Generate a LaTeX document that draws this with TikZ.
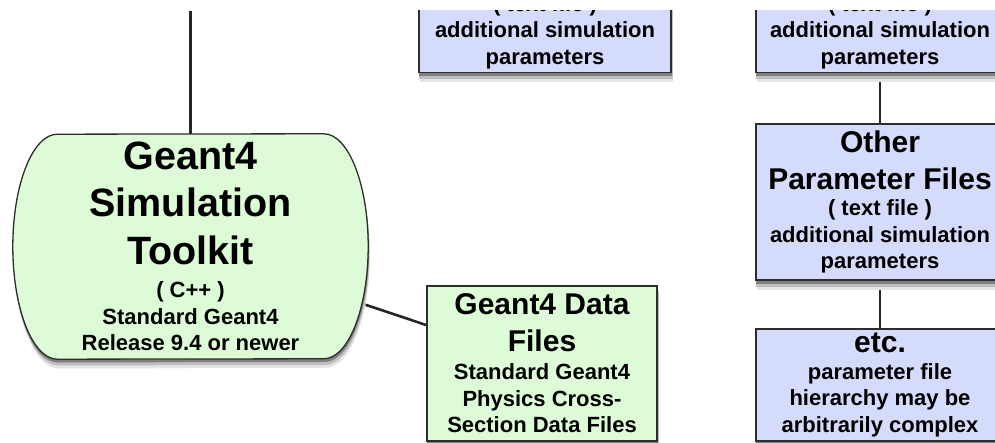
\documentclass[tikz,border=0pt]{standalone}
\usepackage{fontspec}
\setmainfont{Liberation Sans}
\usetikzlibrary{positioning,calc,backgrounds}
\definecolor{toolgreen}{RGB}{222,251,215}
\definecolor{parblue}{RGB}{212,219,251}
\definecolor{edgegray}{RGB}{45,45,45}
\newcommand{\fixspace}{\spaceskip=\fontdimen2\font\relax\xspaceskip=\fontdimen2\font\relax}
\newcommand{\titlefont}{\fontsize{39.5}{47.5}\selectfont\fixspace}
\newcommand{\headfont}{\fontsize{30}{37}\selectfont\fixspace}
\newcommand{\notefont}{\fontsize{22}{26.5}\selectfont\fixspace}

\begin{document}
\begin{tikzpicture}[x=1pt,y=1pt,
  softshadow/.style={preaction={fill=black!10,draw=black!10,transform canvas={xshift=1.5pt,yshift=-9pt}},
    preaction={fill=black!25,draw=black!25,transform canvas={xshift=1pt,yshift=-6pt}},
    preaction={fill=black!50,draw=black!50,transform canvas={xshift=.5pt,yshift=-3pt}}},
  box/.style={draw=edgegray,line width=1.3pt,align=center,inner sep=0pt,font=\bfseries,softshadow},
  parbox/.style={box,fill=parblue,text width=240pt,minimum width=248pt},
  tktext/.style={align=center,inner sep=0pt,font=\bfseries,text width=262pt,minimum width=266pt,minimum height=225pt},
  tkshape/.style={draw=edgegray,line width=1.3pt,fill=toolgreen,softshadow},
  link/.style={line width=2.6pt,draw=black!85}]
\useasboundingbox (0,0) rectangle (995,443);

% toolkit and data files
\node[tktext] (toolkit) at (190.5,196.5) {{\titlefont Geant4\\Simulation\\Toolkit\par}\vspace{7pt}{\notefont ( C++ )\\Standard Geant4\\Release 9.4 or newer\par}};
\node[box,fill=toolgreen,text width=225pt,minimum width=230pt,minimum height=155pt] (data) at (542,79.5) {{\headfont Geant4 Data\\Files\par}\vspace{1.5pt}{\notefont Standard Geant4\\Physics Cross-\\Section Data Files\par}};

% parameter files
\begin{scope}
\clip (0,0) rectangle (995,432);
\node[parbox,minimum width=252pt,anchor=south,inner ysep=3.5pt] (parleft) at (545,370) {{\notefont ( text file )\\additional simulation\\parameters\par}};
\node[parbox,anchor=south,inner ysep=3.5pt] (parright) at (880,370) {{\notefont ( text file )\\additional simulation\\parameters\par}};
\end{scope}
\node[parbox,minimum height=156pt] (other) at (880,241) {{\headfont Other\\Parameter Files\par}{\notefont ( text file )\\additional simulation\\parameters\par}};
\node[parbox,minimum height=112pt] (etcbox) at (880,58) {{\headfont etc.\par}{\notefont parameter file\\hierarchy may be\\arbitrarily complex\par}};

\begin{scope}[on background layer]
\coordinate (upend) at (190.5,432);
\draw[link] (upend) -- (toolkit);
\draw[link] (toolkit) -- (data);
\draw[link] (parright) -- (other);
\draw[link] (other) -- (etcbox);
\draw[tkshape] (toolkit.north east) arc[start angle=90,end angle=-90,x radius=44.5,y radius=112.5]
  -- (toolkit.south west) arc[start angle=270,end angle=90,x radius=44.5,y radius=112.5] -- cycle;
\end{scope}
\end{tikzpicture}
\end{document}
